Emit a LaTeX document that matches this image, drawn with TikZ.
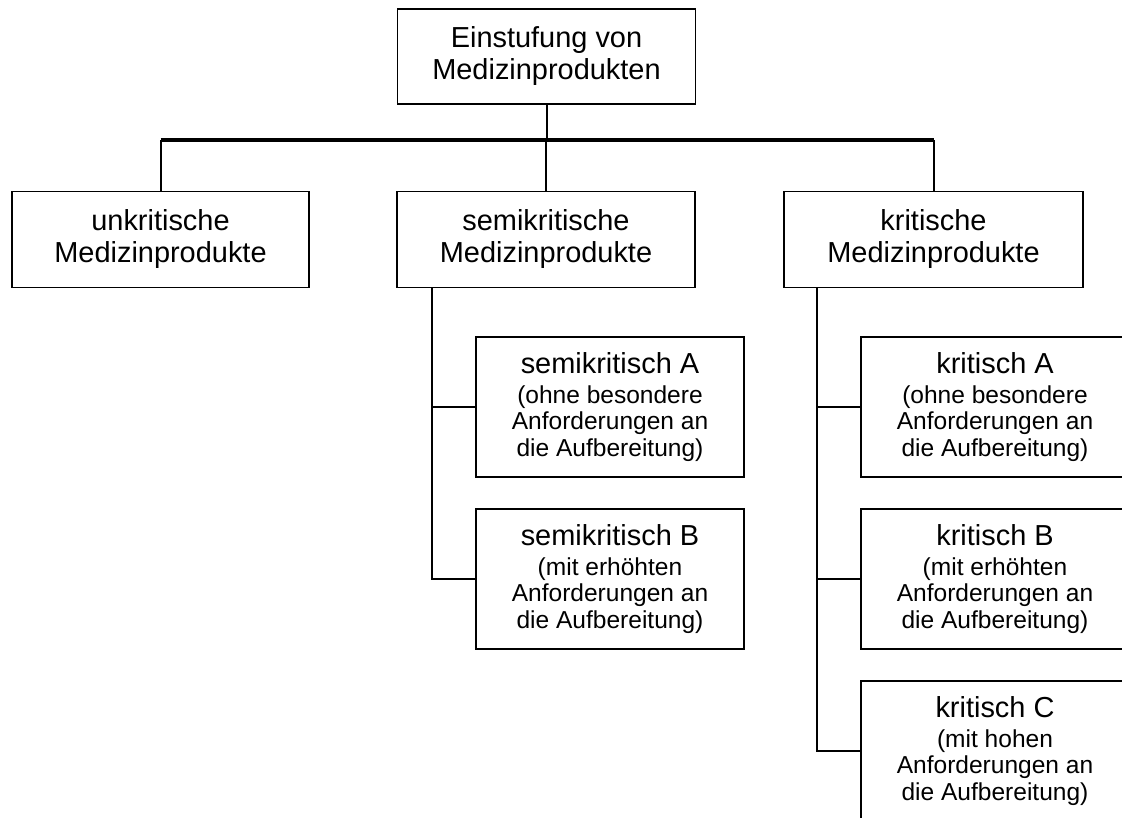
\documentclass[tikz,border=0pt]{standalone}
\usepackage{fontspec}
\setmainfont{Liberation Sans}
\newcommand{\bigtxt}{\fontsize{21.7}{24}\selectfont}
\newcommand{\smalltxt}{\fontsize{18.4}{20}\selectfont}
\begin{document}
\begin{tikzpicture}[x=0.75pt,y=-0.75pt,
  mainbox/.style={draw=black, line width=0.8pt, minimum width=298*0.75pt, minimum height=96*0.75pt, inner sep=0pt, align=center, font=\bigtxt},
  subbox/.style={draw=black, line width=0.8pt, minimum width=268*0.75pt, minimum height=140*0.75pt, inner sep=0pt, align=center, font=\smalltxt},
  conn/.style={line width=1.5pt},
  bar/.style={line width=2.6pt}]
\useasboundingbox (0,0) rectangle (1122,818);
\clip (0,0) rectangle (1122,818);
\fill[white] (0,0) rectangle (1122,818);

\node[mainbox, minimum height=95*0.75pt] (top) at (546.5,56.5) {Einstufung von\\Medizinprodukten};
\node[mainbox, minimum width=297*0.75pt] (unk) at (160.5,239.5) {unkritische\\Medizinprodukte};
\node[mainbox] (semi) at (546,239.5) {semikritische\\Medizinprodukte};
\node[mainbox, minimum width=299*0.75pt] (krit) at (933.5,239.5) {kritische\\Medizinprodukte};

\node[subbox] (sA) at (610,407) {{\bigtxt semikritisch A}\\[2.5pt](ohne besondere\\Anforderungen an\\die Aufbereitung)};
\node[subbox] (sB) at (610,579) {{\bigtxt semikritisch B}\\[2.5pt](mit erhöhten\\Anforderungen an\\die Aufbereitung)};
\node[subbox] (kA) at (995,407) {{\bigtxt kritisch A}\\[2.5pt](ohne besondere\\Anforderungen an\\die Aufbereitung)};
\node[subbox] (kB) at (995,579) {{\bigtxt kritisch B}\\[2.5pt](mit erhöhten\\Anforderungen an\\die Aufbereitung)};
\node[subbox] (kC) at (995,751) {{\bigtxt kritisch C}\\[2.5pt](mit hohen\\Anforderungen an\\die Aufbereitung)};

\coordinate (barY) at (0,140);
\coordinate (sx) at (432,0);
\coordinate (kx) at (817,0);

\draw[bar] (unk.north |- barY) -- (krit.north |- barY);
\draw[conn] (top.south) -- (top.south |- barY);
\draw[conn] (unk.north |- barY) -- (unk.north);
\draw[conn] (semi.north |- barY) -- (semi.north);
\draw[conn] (krit.north |- barY) -- (krit.north);

\draw[conn] (sx |- semi.south) -- (sx |- sB.west) -- (sB.west);
\draw[conn] (sx |- sA.west) -- (sA.west);

\draw[conn] (kx |- krit.south) -- (kx |- kC.west) -- (kC.west);
\draw[conn] (kx |- kA.west) -- (kA.west);
\draw[conn] (kx |- kB.west) -- (kB.west);
\end{tikzpicture}
\end{document}
